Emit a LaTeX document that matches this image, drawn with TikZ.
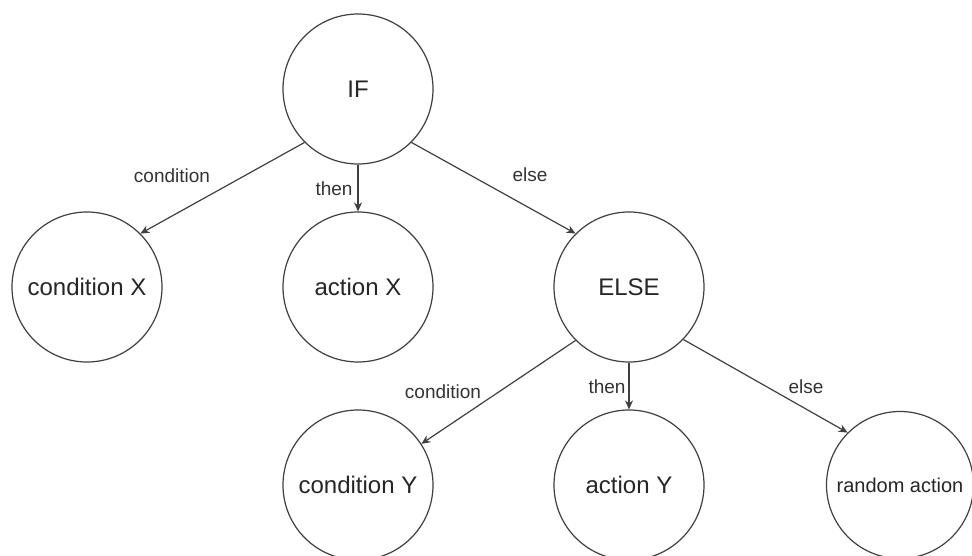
\documentclass[tikz,border=0pt]{standalone}
\usepackage{fontspec}
\setmainfont{Liberation Sans}
\usetikzlibrary{arrows.meta}
\begin{document}
\begin{tikzpicture}[x=1pt,y=-1pt,
  state/.style={circle,draw=black!75,line width=1.2pt,minimum size=150pt,inner sep=0pt,font=\fontsize{24}{28}\selectfont,text=black!85},
  lbl/.style={fill=white,inner sep=1pt,font=\fontsize{19}{22}\selectfont,text=black!80},
  conn/.style={draw=black!75,line width=1.2pt,-{Stealth[length=9pt,width=8pt]}}]
\fill[white] (0,0) rectangle (972,556);
\useasboundingbox (0,0) rectangle (972,556);
\node[state] (if) at (358,89) {IF};
\node[state] (cx) at (87,287) {condition X};
\node[state] (ax) at (358,287) {action X};
\node[state] (el) at (629,287) {ELSE};
\node[state] (cy) at (358,485) {condition Y};
\node[state] (ay) at (629,485) {action Y};
\node[state,minimum size=147pt,font=\fontsize{20}{24}\selectfont] (ra) at (900,485) {random action};
\draw[conn] (if.225) -- (cx.45);
\draw[conn] (if.south) -- (ax.north);
\draw[conn] (if.-45) -- (el.135);
\draw[conn] (el.225) -- (cy.33);
\draw[conn] (el.south) -- (ay.north);
\draw[conn] (el.-44) -- (ra.135);
\node[lbl] (l1) at (172,176) {condition};
\node[lbl] (l2) at (334,189) {then};
\node[lbl] (l3) at (530,175) {else};
\node[lbl] (l4) at (443,392) {condition};
\node[lbl] (l5) at (607,387) {then};
\node[lbl] (l6) at (806,387) {else};
\end{tikzpicture}
\end{document}
